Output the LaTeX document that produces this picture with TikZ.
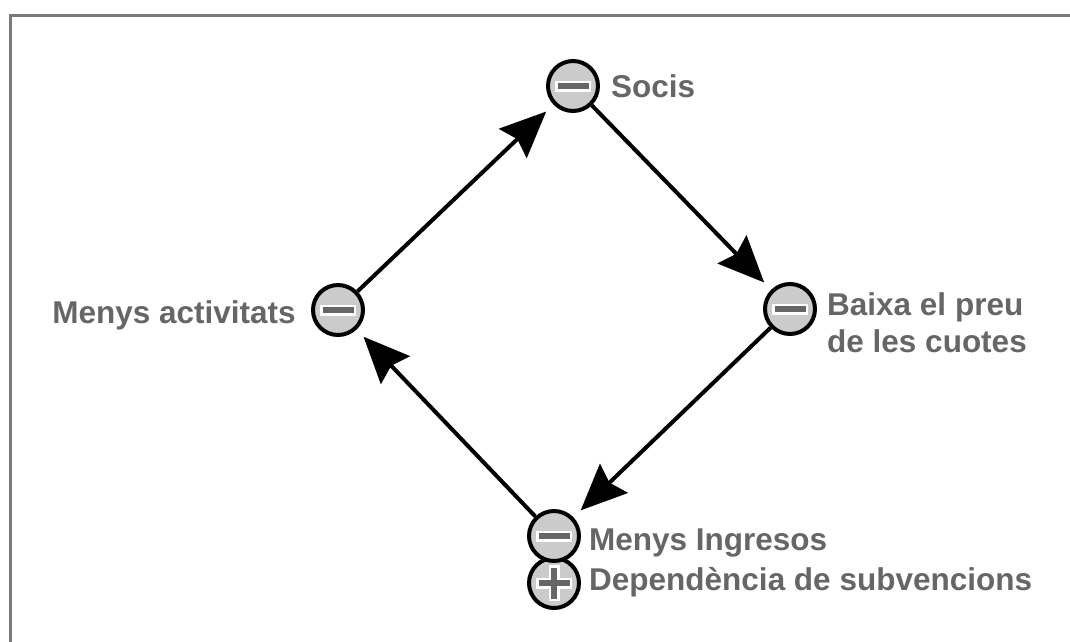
\documentclass[tikz,border=0pt]{standalone}
\usepackage{fontspec}
\setmainfont{Liberation Sans}
\usetikzlibrary{arrows.meta}
\definecolor{txtgray}{HTML}{666666}
\definecolor{fillgray}{HTML}{CBCBCB}
\definecolor{bargray}{HTML}{666666}
\definecolor{framegray}{HTML}{7A7A7A}
\begin{document}
\begin{tikzpicture}[x=1pt,y=-1pt,
  signcirc/.style={circle,draw=black,fill=fillgray,line width=4pt,minimum size=50pt,inner sep=0pt},
  minussign/.style={signcirc,path picture={
     \draw[white,line width=11pt] ([xshift=-18pt]path picture bounding box.center) -- ([xshift=18pt]path picture bounding box.center);
     \draw[bargray,line width=6.5pt] ([xshift=-15.5pt]path picture bounding box.center) -- ([xshift=15.5pt]path picture bounding box.center);}},
  plussign/.style={signcirc,path picture={
     \draw[white,line width=11pt] ([xshift=-18pt]path picture bounding box.center) -- ([xshift=18pt]path picture bounding box.center);
     \draw[white,line width=11pt] ([yshift=-18pt]path picture bounding box.center) -- ([yshift=18pt]path picture bounding box.center);
     \draw[bargray,line width=6.5pt] ([xshift=-15.5pt]path picture bounding box.center) -- ([xshift=15.5pt]path picture bounding box.center);
     \draw[bargray,line width=6.5pt] ([yshift=-15.5pt]path picture bounding box.center) -- ([yshift=15.5pt]path picture bounding box.center);}},
  lbl/.style={text=txtgray,font=\fontsize{31.5}{37}\selectfont\bfseries,inner sep=0pt,align=left},
  arr/.style={draw=black,line width=4pt,-{Stealth[length=46pt,width=40pt,inset=6pt]},shorten >=10pt}
]
\useasboundingbox (0,0) rectangle (1070,641);
\draw[framegray,line width=3pt] (10,660) -- (10,15) -- (1090,15);

\node[minussign] (socis) at (573,86) {};
\node[minussign] (baixa) at (790,309) {};
\node[minussign] (act) at (338,310) {};
\node[plussign] (dep) at (554,583) {};
\node[minussign] (ingr) at (554,536) {};

\node[lbl,anchor=base west] (tsocis) at (611,97) {Socis};
\node[lbl,anchor=base west] (tbaixa) at (827,352) {Baixa el preu\\de les cuotes};
\node[lbl,anchor=base east] (tact) at (296,323) {Menys activitats};
\node[lbl,anchor=base west] (tingr) at (589,550) {Menys Ingresos};
\node[lbl,anchor=base west] (tdep) at (589,590) {Dependència de subvencions};

\draw[arr] (act) -- (socis);
\draw[arr] (socis) -- (baixa);
\draw[arr] (baixa) -- (ingr);
\draw[arr] (ingr) -- (act);
\end{tikzpicture}
\end{document}
